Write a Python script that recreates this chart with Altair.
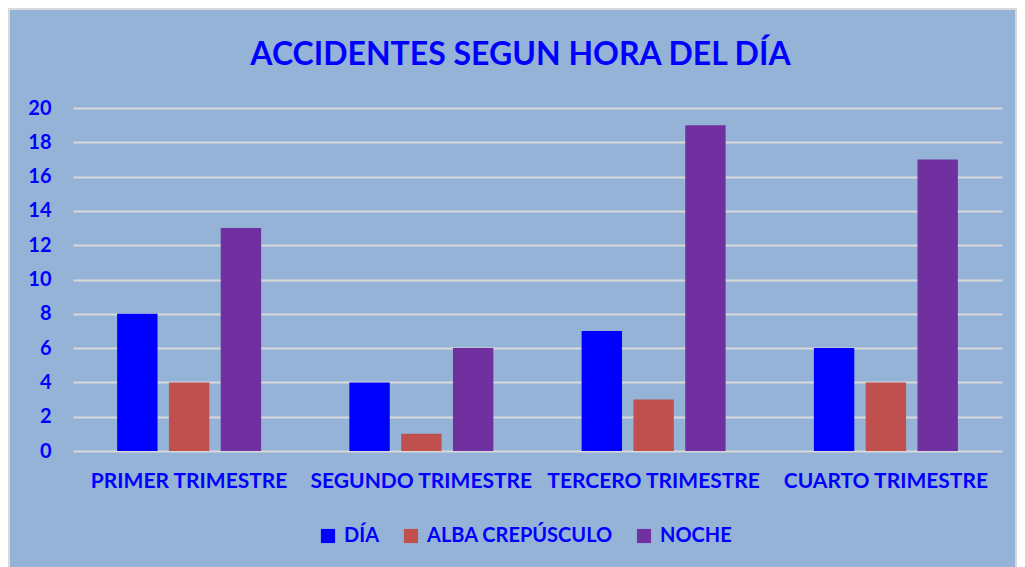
import altair as alt
import pandas as pd

trimestres = ["PRIMER TRIMESTRE", "SEGUNDO TRIMESTRE", "TERCERO TRIMESTRE", "CUARTO TRIMESTRE"]
series = ["DÍA", "ALBA CREPÚSCULO", "NOCHE"]
dia = [8, 4, 7, 6]
alba = [4, 1, 3, 4]
noche = [13, 6, 19, 17]
colores = ["#0000FF", "#C0504D", "#7030A0"]
y_ticks = [0, 2, 4, 6, 8, 10, 12, 14, 16, 18, 20]

rows = []
for s, vals in zip(series, [dia, alba, noche]):
    for t, v in zip(trimestres, vals):
        rows.append({"trimestre": t, "serie": s, "valor": v})
df = pd.DataFrame(rows)

W, H = 929, 343
PL, PT, PR, PB = 65, 100, 15, 116
BLUE = "#0000FF"
FONT = "Lato"

bars = alt.Chart(df).mark_bar().encode(
    x=alt.X("trimestre:N", sort=trimestres, title=None,
            scale=alt.Scale(paddingInner=0.38, paddingOuter=0.19),
            axis=alt.Axis(labelAngle=0, labelFontSize=21, labelFont=FONT, labelFontWeight="bold",
                          labelColor=BLUE, labelPadding=19, labelLimit=400, ticks=False,
                          domain=False, grid=False)),
    xOffset=alt.XOffset("serie:N", sort=series, scale=alt.Scale(paddingInner=0.22)),
    y=alt.Y("valor:Q", title=None,
            scale=alt.Scale(domain=[0, 20]),
            axis=alt.Axis(values=y_ticks, labelFontSize=20, labelFont=FONT, labelFontWeight="bold",
                          labelColor=BLUE, labelPadding=22, ticks=False, domain=False,
                          grid=True, gridColor="#D9D9D9", gridWidth=2)),
    color=alt.Color("serie:N", sort=series, title=None,
                    scale=alt.Scale(domain=series, range=colores),
                    legend=alt.Legend(orient="none", legendX=245, legendY=418, direction="horizontal",
                                      symbolType="square", symbolSize=200, symbolStrokeWidth=0,
                                      labelFontSize=20, labelFont=FONT, labelFontWeight="bold",
                                      labelColor=BLUE, labelLimit=400, columnPadding=21, labelOffset=6)),
)

border = alt.Chart(alt.Data(values=[{"a": 1}])).mark_rect(
    fillOpacity=0, stroke="#D9D9D9", strokeWidth=2
).encode(
    x=alt.value(-PL + 1), x2=alt.value(W + PR - 1),
    y=alt.value(-PT + 1), y2=alt.value(H + PB + 5),
)

chart = alt.layer(bars, border).properties(
    width=W, height=H,
    padding={"left": PL, "top": PT, "right": PR, "bottom": PB},
    autosize=alt.AutoSizeParams(type="none"),
    background="#95B3D7",
    title=alt.TitleParams("ACCIDENTES SEGUN HORA DEL DÍA", font=FONT, fontSize=32, fontWeight="bold",
                          color=BLUE, anchor="middle", dx=-17, offset=-64),
).configure_view(stroke=None)

chart.save("out.html", embed_options={"renderer": "svg", "actions": False})
